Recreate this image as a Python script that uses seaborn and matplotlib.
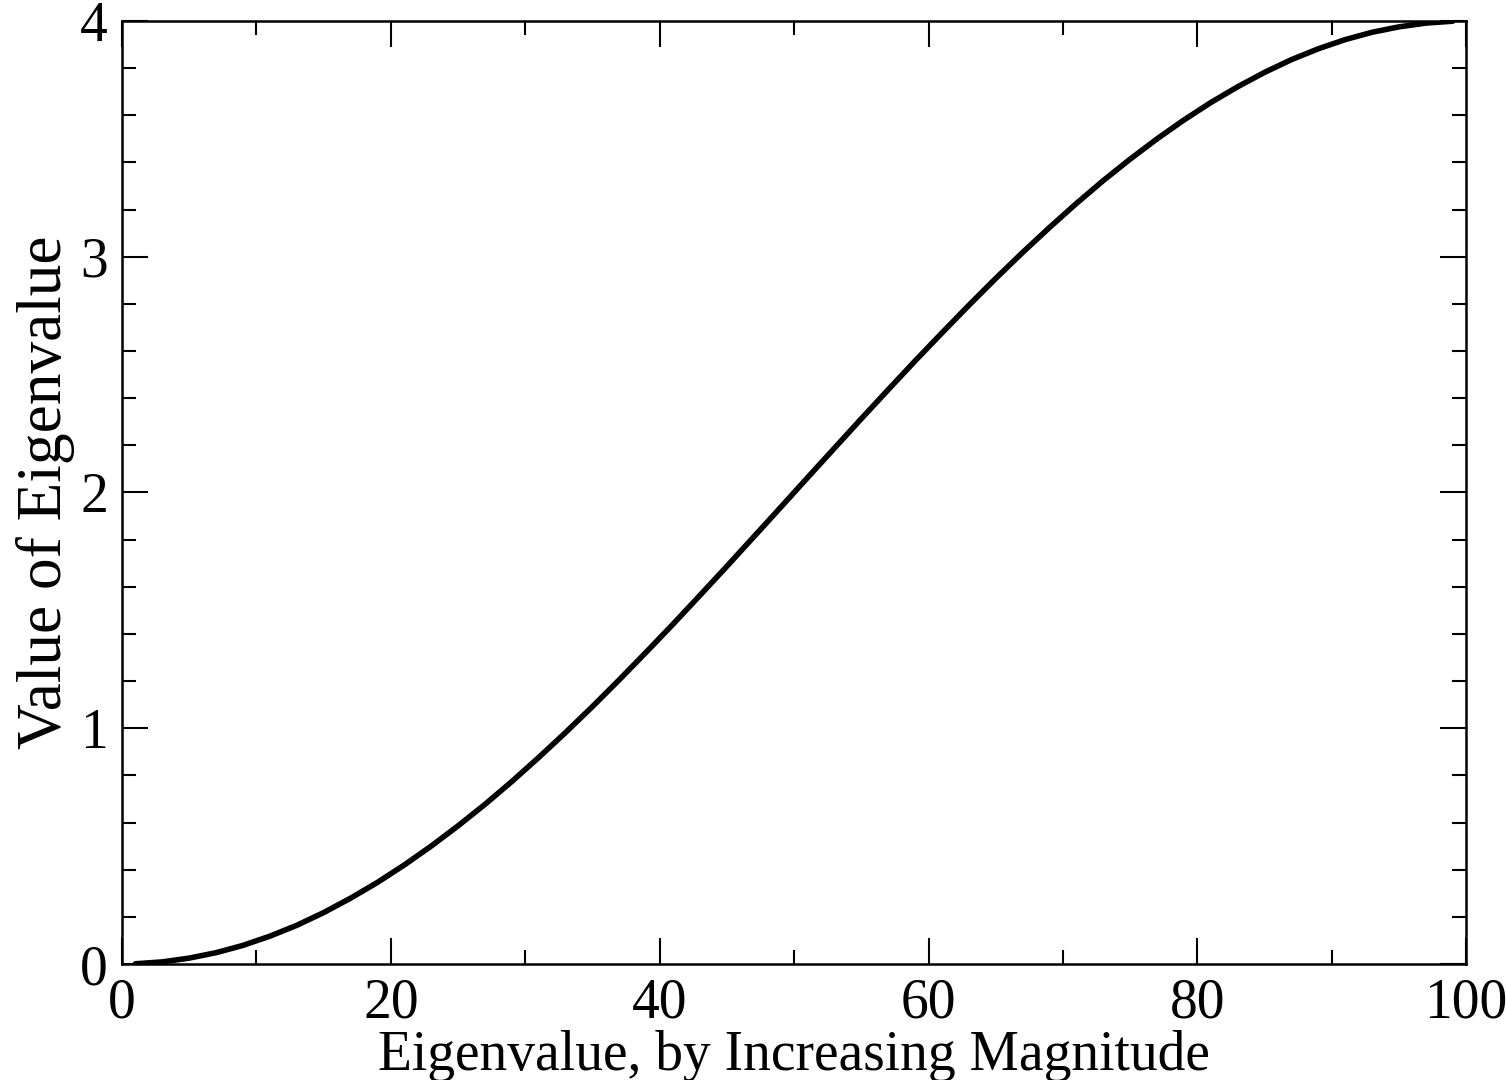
import numpy as np
import pandas as pd
import matplotlib
matplotlib.use('Agg')
import matplotlib.pyplot as plt
import seaborn as sns
from matplotlib.ticker import MultipleLocator

# eigenvalue index (odd ones) and value
index = [1, 3, 5, 7, 9, 11, 13, 15, 17, 19, 21, 23, 25, 27, 29, 31, 33, 35, 37, 39,
         41, 43, 45, 47, 49, 51, 53, 55, 57, 59, 61, 63, 65, 67, 69, 71, 73, 75, 77, 79,
         81, 83, 85, 87, 89, 91, 93, 95, 97, 99]
value = [0.001, 0.009, 0.025, 0.048, 0.079, 0.118, 0.164, 0.218, 0.279, 0.346,
         0.420, 0.500, 0.586, 0.677, 0.774, 0.876, 0.982, 1.092, 1.206, 1.323,
         1.442, 1.564, 1.687, 1.812, 1.937, 2.063, 2.188, 2.313, 2.436, 2.558,
         2.677, 2.794, 2.908, 3.018, 3.124, 3.226, 3.323, 3.414, 3.500, 3.580,
         3.654, 3.721, 3.782, 3.836, 3.882, 3.921, 3.952, 3.975, 3.991, 3.999]

df = pd.DataFrame({'index': index, 'value': value})

sns.set_style('ticks')
plt.rcParams['font.family'] = ['Liberation Serif', 'DejaVu Serif']

fig = plt.figure(figsize=(15.06, 10.8), dpi=100)
ax = fig.add_axes([0.081, 0.1074, 0.8926, 0.8732])

sns.lineplot(data=df, x='index', y='value', ax=ax, color='black', linewidth=4.0)

ax.set_xlim(0, 100)
ax.set_ylim(0, 4)
ax.xaxis.set_major_locator(MultipleLocator(20))
ax.xaxis.set_minor_locator(MultipleLocator(10))
ax.yaxis.set_major_locator(MultipleLocator(1))
ax.yaxis.set_minor_locator(MultipleLocator(0.2))

ax.tick_params(which='both', direction='in', top=True, right=True,
               labelsize=40, color='black', labelcolor='black', width=1.5, pad=10)
ax.tick_params(which='major', length=19)
ax.tick_params(which='minor', length=10)
for side in ax.spines.values():
    side.set_linewidth(1.8)
    side.set_color('black')

ax.set_xlabel('Eigenvalue, by Increasing Magnitude', fontsize=40, labelpad=0, color='black')
ax.set_ylabel('Value of Eigenvalue', fontsize=45.5, labelpad=4, color='black')

fig.savefig('out.png', dpi=100)
